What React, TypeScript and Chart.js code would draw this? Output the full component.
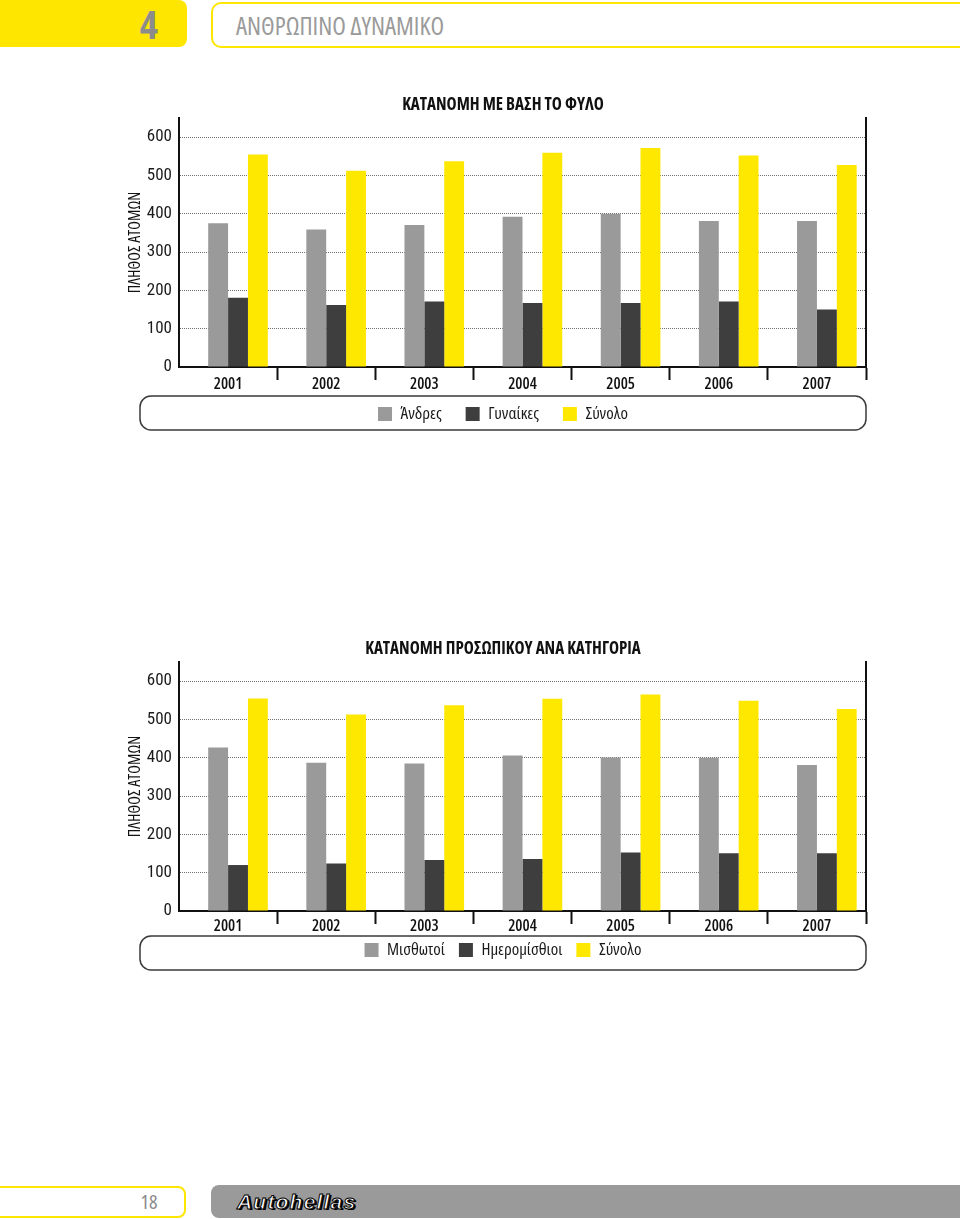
import React, { useEffect, useRef } from 'react';
import { Chart, registerables } from 'chart.js';

Chart.register(...registerables);

// ---------- data ----------
const years = ['2001', '2002', '2003', '2004', '2005', '2006', '2007'];
const yTickValues = [0, 100, 200, 300, 400, 500, 600];
const yAxisTitle = 'ΠΛΗΘΟΣ ΑΤΟΜΩΝ';

const genderTitle = 'ΚΑΤΑΝΟΜΗ ΜΕ ΒΑΣΗ ΤΟ ΦΥΛΟ';
const genderNames = ['Άνδρες', 'Γυναίκες', 'Σύνολο'];
const men = [375, 359, 371, 392, 400, 381, 381];
const women = [181, 162, 171, 167, 167, 171, 150];
const genderTotal = [555, 512, 537, 559, 572, 552, 527];

const categoryTitle = 'ΚΑΤΑΝΟΜΗ ΠΡΟΣΩΠΙΚΟΥ ΑΝΑ ΚΑΤΗΓΟΡΙΑ';
const categoryNames = ['Μισθωτοί', 'Ημερομίσθιοι', 'Σύνολο'];
const salaried = [427, 387, 385, 406, 401, 400, 381];
const dailyPaid = [120, 124, 133, 136, 153, 151, 151];
const categoryTotal = [555, 513, 537, 554, 565, 549, 527];

// ---------- styles ----------
const FAMILY = '"Open Sans", "Open Sans Condensed", "Roboto Condensed", sans-serif';
const FAMILY_R = '"Roboto Condensed", "Open Sans Condensed", sans-serif';
const GRAY = '#9a9a9a';
const DARK = '#3e3e3e';
const YELLOW = '#ffe800';
const HEADER_YELLOW = '#ffe600';

const legendBox = {
  id: 'legendBox',
  afterDraw(chart: any, _args: any, opts: any) {
    const ca = chart.chartArea;
    const ctx = chart.ctx;
    const x = ca.left - opts.left;
    const y = ca.bottom + opts.top;
    const w = ca.right - x;
    ctx.save();
    ctx.lineWidth = 1.5;
    ctx.strokeStyle = '#3a3a3a';
    ctx.beginPath();
    ctx.roundRect(x, y, w, opts.height, 11);
    ctx.stroke();
    ctx.restore();
  },
};

type BarChartProps = {
  title: string;
  names: string[];
  series: number[][];
  top: number;
  xHeight: number;
  xPad: number;
  padBottom: number;
  boxTop: number;
  legendPad: number;
  legendShift: number;
};

function BarChart(p: BarChartProps) {
  const ref = useRef<HTMLCanvasElement | null>(null);
  useEffect(() => {
    if (!ref.current) return;
    const colors = [GRAY, DARK, YELLOW];
    const chart = new Chart(ref.current, {
      type: 'bar',
      data: {
        labels: years,
        datasets: [
          { label: '', data: [], backgroundColor: 'rgba(0,0,0,0)' },
          ...p.series.map((s, i) => ({
            label: p.names[i],
            data: s,
            backgroundColor: colors[i],
            borderWidth: 0,
          })),
        ],
      },
      options: {
        responsive: false,
        animation: false,
        devicePixelRatio: 1,
        layout: { padding: { left: 0, right: 0, top: 0, bottom: p.padBottom } },
        datasets: { bar: { categoryPercentage: 0.81, barPercentage: 1 } },
        plugins: {
          title: {
            display: true,
            text: p.title,
            color: '#111',
            font: { family: FAMILY, size: 17, weight: 'condensed bold' },
            padding: { top: 14.5, bottom: 3.1 },
          },
          legend: {
            position: 'bottom',
            title: { display: true, text: '', font: { family: FAMILY, size: 1 }, padding: { top: p.legendShift - 1.2, bottom: 0 } },
            labels: {
              filter: (it: any) => it.datasetIndex !== 0,
              boxWidth: 14,
              boxHeight: 14,
              padding: p.legendPad,
              color: '#1a1a1a',
              font: { family: FAMILY, size: 17, weight: 'condensed normal' },
            },
          },
          tooltip: { enabled: false },
          legendBox: { left: 39, top: p.boxTop, height: 34 },
        } as any,
        scales: {
          x: {
            grid: {
              offset: true,
              drawOnChartArea: false,
              drawTicks: true,
              tickLength: 13,
              tickWidth: 2,
              tickColor: (c: any) => (c.index === 0 ? 'rgba(0,0,0,0)' : '#111'),
            },
            border: { display: true, color: '#111', width: 2 },
            ticks: { color: '#111', font: { family: FAMILY, size: 16, weight: 'condensed 600' }, padding: p.xPad },
            afterFit: (s: any) => {
              s.height = p.xHeight;
            },
          },
          y: {
            min: 0,
            max: 650,
            ticks: { stepSize: 100, color: '#1a1a1a', font: { family: FAMILY_R, size: 17, weight: '400' }, padding: 7 },
            afterBuildTicks: (s: any) => {
              s.ticks = s.ticks.filter((t: any) => yTickValues.includes(t.value));
            },
            grid: {
              drawTicks: false,
              lineWidth: 1,
              color: (c: any) => (c.tick && c.tick.value === 0 ? 'rgba(0,0,0,0)' : '#6e6e6e'),
            },
            border: { display: true, color: '#111', width: 2, dash: [1, 1] },
            title: {
              display: true,
              text: yAxisTitle,
              color: '#111',
              font: { family: FAMILY, size: 16, weight: 'condensed normal' },
              padding: { top: 23, bottom: 0 },
            },
            afterFit: (s: any) => {
              s.width = 76;
            },
          },
          y2: {
            position: 'right',
            min: 0,
            max: 650,
            grid: { display: false },
            ticks: { display: false },
            border: { display: true, color: '#111', width: 2 },
            afterFit: (s: any) => {
              s.width = 37;
            },
          },
        },
      } as any,
      plugins: [legendBox],
    });
    return () => chart.destroy();
  }, []);
  return (
    <canvas
      ref={ref}
      width={800}
      height={360}
      style={{ position: 'absolute', left: 103, top: p.top, width: 800, height: 360 }}
    />
  );
}

const condensed = { fontFamily: FAMILY, fontStretch: 'condensed' } as const;

export default function App() {
  return (
    <div
      style={{
        position: 'absolute',
        left: 0,
        top: 0,
        width: 960,
        height: 1219,
        overflow: 'hidden',
        background: '#fff',
      }}
    >
      {/* header */}
      <div
        style={{
          position: 'absolute',
          left: -10,
          top: 0,
          width: 197,
          height: 47,
          background: HEADER_YELLOW,
          borderRadius: 8,
        }}
      />
      <div
        style={{
          ...condensed,
          position: 'absolute',
          left: 119,
          top: 0,
          width: 60,
          height: 47,
          lineHeight: '47px',
          textAlign: 'center',
          fontSize: 39,
          fontWeight: 'bold',
          color: '#8c8c8c',
        }}
      >
        4
      </div>
      <div
        style={{
          position: 'absolute',
          left: 211,
          top: 2,
          width: 770,
          height: 46,
          boxSizing: 'border-box',
          border: `2px solid ${HEADER_YELLOW}`,
          borderRadius: 10,
        }}
      />
      <div
        style={{
          ...condensed,
          position: 'absolute',
          left: 236,
          top: 2,
          height: 46,
          lineHeight: '46px',
          fontSize: 25,
          color: '#9a9a9a',
          whiteSpace: 'nowrap',
        }}
      >
        ΑΝΘΡΩΠΙΝΟ ΔΥΝΑΜΙΚΟ
      </div>

      <BarChart
        title={genderTitle}
        names={genderNames}
        series={[men, women, genderTotal]}
        top={80}
        xHeight={25}
        xPad={-5}
        padBottom={7.5}
        boxTop={29}
        legendPad={24}
        legendShift={-10.5}
      />
      <BarChart
        title={categoryTitle}
        names={categoryNames}
        series={[salaried, dailyPaid, categoryTotal]}
        top={624}
        xHeight={22}
        xPad={-7}
        padBottom={15.5}
        boxTop={25}
        legendPad={14}
        legendShift={-5.5}
      />

      {/* footer */}
      <div
        style={{
          position: 'absolute',
          left: -10,
          top: 1186,
          width: 196,
          height: 32,
          boxSizing: 'border-box',
          border: `2px solid ${HEADER_YELLOW}`,
          borderRadius: 8,
        }}
      />
      <div
        style={{
          ...condensed,
          position: 'absolute',
          left: 129,
          top: 1186,
          width: 40,
          height: 32,
          lineHeight: '32px',
          textAlign: 'center',
          fontSize: 20,
          color: '#8a8a8a',
        }}
      >
        18
      </div>
      <div
        style={{
          position: 'absolute',
          left: 211,
          top: 1185,
          width: 770,
          height: 33,
          background: '#9a9a9a',
          borderRadius: 8,
        }}
      />
      <div
        style={{
          position: 'absolute',
          left: 237,
          top: 1185,
          height: 33,
          lineHeight: '33px',
          fontFamily: '"Liberation Sans", Arial, sans-serif',
          fontSize: 21,
          fontWeight: 900,
          fontStyle: 'italic',
          color: '#fff',
          WebkitTextStroke: '1px #000',
          textShadow: '2px 1px 0 #000',
          letterSpacing: 1.2,
        }}
      >
        Autohellas
      </div>
    </div>
  );
}
